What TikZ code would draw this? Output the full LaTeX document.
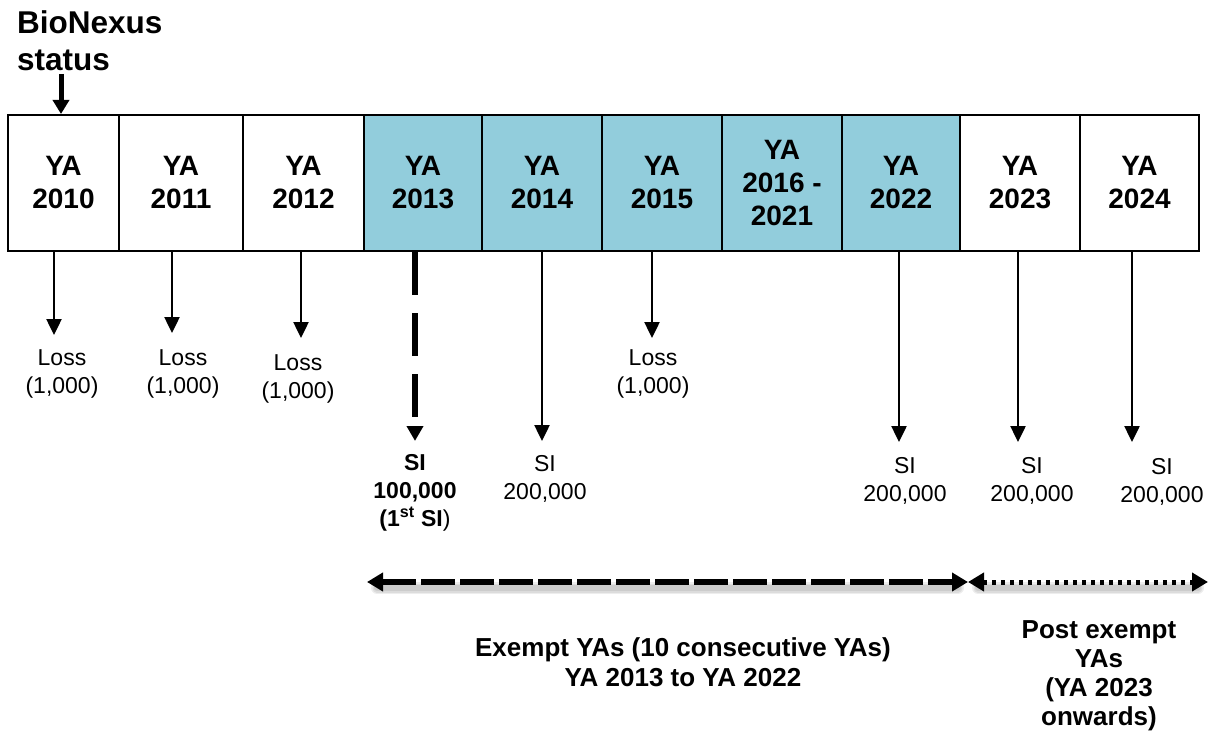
\documentclass[tikz,border=0pt]{standalone}
\usepackage{fontspec}
\setmainfont{Liberation Sans}
\usetikzlibrary{arrows.meta}
\definecolor{ashade}{HTML}{92CDDC}
\tikzset{
  yabox/.style={draw=black, line width=2pt, minimum height=136pt, inner sep=0pt, align=center,
    font=\fontsize{28}{33}\selectfont\bfseries},
  shaded/.style={yabox, fill=ashade},
  lbl/.style={align=center, inner sep=0pt, font=\fontsize{23}{28}\selectfont},
  thinarr/.style={line width=2.5pt, -{Triangle[width=15pt,length=16pt]}},
  dasharr/.style={line width=5.5pt, dash pattern=on 43pt off 18pt, -{Triangle[width=16pt,length=15pt]}},
  bigarr/.style={line width=5pt, -{Triangle[width=16pt,length=14pt]}},
  exarr/.style={line width=6pt, dash pattern=on 34pt off 5pt, {Triangle[width=18pt,length=16pt]}-{Triangle[width=18pt,length=16pt]}},
  dotarr/.style={line width=5pt, dash pattern=on 4pt off 5pt, {Triangle[width=18pt,length=16pt]}-{Triangle[width=18pt,length=16pt]}},
  softshadow/.style={draw=black, opacity=0.07, line cap=round},
  bottxt/.style={align=center, inner sep=0pt, font=\fontsize{26}{30}\selectfont\bfseries}
}
\begin{document}
\begin{tikzpicture}[x=1pt,y=-1pt]
\useasboundingbox (0,0) rectangle (1216,738);

% title
\node[anchor=west, align=left, inner sep=0pt, font=\fontsize{31.5}{37}\selectfont\bfseries] (bio) at (17,41) {BioNexus\\status};

% boxes
\node[yabox, minimum width=111pt] (b2010) at (63.5,183) {YA\\2010};
\node[yabox, minimum width=124pt] (b2011) at (181,183) {YA\\2011};
\node[yabox, minimum width=121pt] (b2012) at (303.5,183) {YA\\2012};
\node[shaded, minimum width=118pt] (b2013) at (423,183) {YA\\2013};
\node[shaded, minimum width=120pt] (b2014) at (542,183) {YA\\2014};
\node[shaded, minimum width=120pt] (b2015) at (662,183) {YA\\2015};
\node[shaded, minimum width=120pt] (b2016) at (782,183) {YA\\2016 -\\2021};
\node[shaded, minimum width=118pt] (b2022) at (901,183) {YA\\2022};
\node[yabox, minimum width=120pt] (b2023) at (1020,183) {YA\\2023};
\node[yabox, minimum width=119pt] (b2024) at (1139.5,183) {YA\\2024};

% status arrow
\coordinate (bioend) at (61,74);
\draw[bigarr] (bioend) -- (bioend |- b2010.north);

% labels
\node[lbl] (l2010) at (62,374) {Loss\\(1,000)};
\node[lbl] (l2011) at (183,374) {Loss\\(1,000)};
\node[lbl] (l2012) at (298,379) {Loss\\(1,000)};
\node[lbl] (l2015) at (653,374) {Loss\\(1,000)};
\node[lbl, font=\fontsize{23}{28}\selectfont\bfseries] (l2013) at (415,493) {SI\\100,000\\(1\textsuperscript{st} SI\textmd{)}};
\node[lbl] (l2014) at (545,479) {SI\\200,000};
\node[lbl] (l2022) at (905,481) {SI\\200,000};
\node[lbl] (l2023) at (1032,481) {SI\\200,000};
\node[lbl] (l2024) at (1162,482) {SI\\200,000};

% arrow tips
\coordinate (t2010) at (54,335);
\coordinate (t2011) at (172,333);
\coordinate (t2012) at (301,338);
\coordinate (t2013) at (415,441);
\coordinate (t2014) at (542,441);
\coordinate (t2015) at (652,338);
\coordinate (t2022) at (899,442);
\coordinate (t2023) at (1018,442);
\coordinate (t2024) at (1132,442);

\draw[thinarr] (t2010 |- b2010.south) -- (t2010);
\draw[thinarr] (t2011 |- b2011.south) -- (t2011);
\draw[thinarr] (t2012 |- b2012.south) -- (t2012);
\draw[dasharr] (t2013 |- b2013.south) -- (t2013);
\draw[thinarr] (t2014 |- b2014.south) -- (t2014);
\draw[thinarr] (t2015 |- b2015.south) -- (t2015);
\draw[thinarr] (t2022 |- b2022.south) -- (t2022);
\draw[thinarr] (t2023 |- b2023.south) -- (t2023);
\draw[thinarr] (t2024 |- b2024.south) -- (t2024);

% bottom span arrows
\coordinate (exL) at (367,582);
\coordinate (exM) at (968,582);
\coordinate (exR) at (1208,582);
\foreach \w in {12,9,6} {
  \draw[softshadow, line width=\w pt] ([shift={(10,6)}]exL) -- ([shift={(-10,6)}]exM);
  \draw[softshadow, line width=\w pt] ([shift={(10,6)}]exM) -- ([shift={(-10,6)}]exR);
}
\draw[exarr] (exL) -- (exM);
\draw[dotarr] (exM) -- (exR);

\node[bottxt] (extxt) at (683,662) {Exempt YAs (10 consecutive YAs)\\YA 2013 to YA 2022};
\node[bottxt, font=\fontsize{26}{29}\selectfont\bfseries] (posttxt) at (1099,676) {Post exempt\\YAs\\(YA 2023\\onwards)};
\end{tikzpicture}
\end{document}
